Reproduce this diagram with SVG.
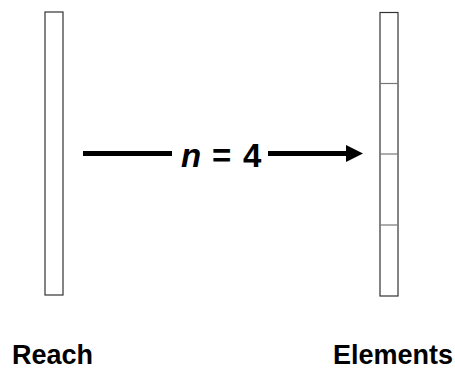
<svg xmlns="http://www.w3.org/2000/svg" width="455" height="370" viewBox="0 0 455 370">
<style>
.bar{fill:#fff;stroke:#333;stroke-width:1.2}
.div{stroke:#777;stroke-width:1.2}
.lbl{font-family:"Liberation Sans",Arial,sans-serif;font-weight:bold;font-size:27px;fill:#000}
.eq{font-family:"Liberation Sans",Arial,sans-serif;font-weight:bold;font-size:33px;fill:#000}
.ln{stroke:#000;stroke-width:5;fill:none}
</style>
<rect width="455" height="370" fill="#fff"/>
<g id="reach">
<rect class="bar" x="45" y="12" width="18" height="283"/>
<text class="lbl" x="12" y="364">Reach</text>
</g>
<g id="elements">
<rect class="bar" x="380" y="12.5" width="18" height="283.5"/>
<line class="div" x1="380" y1="83.5" x2="398" y2="83.5"/>
<line class="div" x1="380" y1="154" x2="398" y2="154"/>
<line class="div" x1="380" y1="225" x2="398" y2="225"/>
<text class="lbl" x="453" y="364" text-anchor="end">Elements</text>
</g>
<g id="connectors">
<line class="ln" x1="83" y1="153.5" x2="172" y2="153.5"/>
<line class="ln" x1="268" y1="153.5" x2="348" y2="153.5"/>
<polygon points="346,145 363,153.5 346,162" fill="#000"/>
<text class="eq" y="167"><tspan x="181" font-style="italic">n</tspan><tspan x="212">=</tspan><tspan x="243">4</tspan></text>
</g>
</svg>
